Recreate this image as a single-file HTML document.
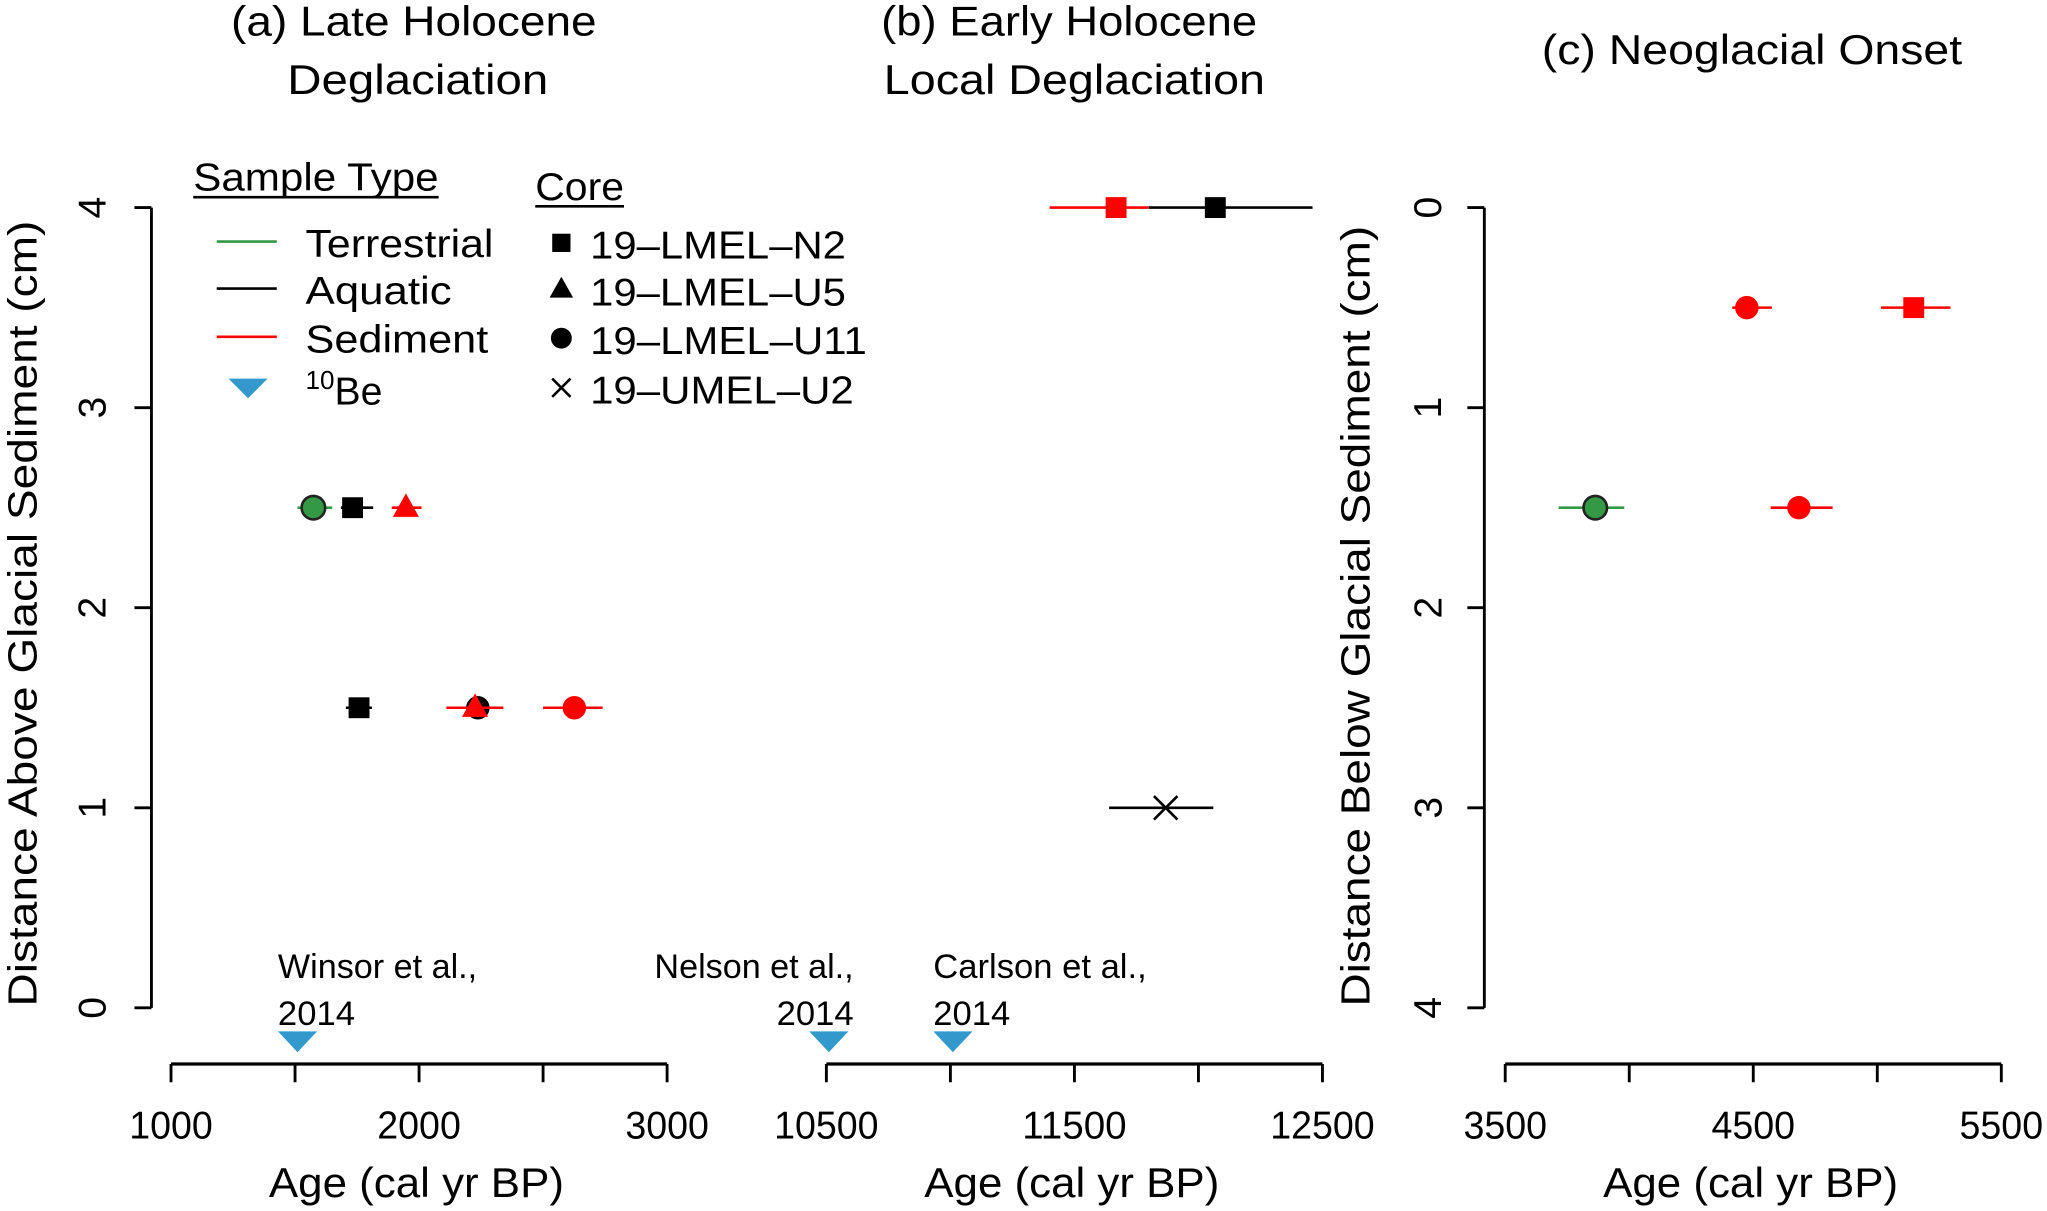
<!DOCTYPE html>
<html><head><meta charset="utf-8"><style>
html,body{margin:0;padding:0;background:#fff;}
svg{display:block;font-family:"Liberation Sans",sans-serif;}
</style></head><body>
<svg id="chart" width="2047" height="1211" viewBox="0 0 1568 927.6" xmlns="http://www.w3.org/2000/svg">
<g id="root"></g>
</svg>
<script>
// ---- data ----
const panelAAges = [1574, 1732, 1947, 1758, 2237, 2226, 2626];
const panelALo = [1510, 1685, 1890, 1705, 2120, 2110, 2500];
const panelAHi = [1650, 1815, 2010, 1810, 2310, 2340, 2740];
const panelADepth = [2.5, 2.5, 2.5, 1.5, 1.5, 1.5, 1.5];
const panelAType = ['T', 'A', 'S', 'A', 'A', 'S', 'S'];
const panelACore = ['U11', 'N2', 'U5', 'N2', 'U11', 'U5', 'U11'];

const panelBAges = [11668, 12068, 11868];
const panelBLo = [11400, 11800, 11640];
const panelBHi = [11800, 12460, 12060];
const panelBDepth = [4, 4, 1];
const panelBType = ['S', 'A', 'A'];
const panelBCore = ['N2', 'N2', 'U2'];

const panelCAges = [3863, 4474, 5147, 4684];
const panelCLo = [3715, 4415, 5015, 4570];
const panelCHi = [3980, 4575, 5295, 4820];
const panelCDepth = [1.5, 0.5, 0.5, 1.5];
const panelCType = ['T', 'S', 'S', 'S'];
const panelCCore = ['U11', 'U11', 'N2', 'U11'];

const beAges = [1510, 10510, 11010];
const beNames = ['Winsor et al.,', 'Nelson et al.,', 'Carlson et al.,'];
const axisATicks = [1000, 1500, 2000, 2500, 3000];
const axisALabels = ['1000', '', '2000', '', '3000'];
const axisBTicks = [10500, 11000, 11500, 12000, 12500];
const axisBLabels = ['10500', '', '11500', '', '12500'];
const axisCTicks = [3500, 4000, 4500, 5000, 5500];
const axisCLabels = ['3500', '', '4500', '', '5500'];
const yTicks = [0, 1, 2, 3, 4];

// ---- helpers ----
const NS = 'http://www.w3.org/2000/svg';
const root = document.getElementById('root');
function mk(tag, attrs, parent) {
  const e = document.createElementNS(NS, tag);
  for (const k in attrs) e.setAttribute(k, attrs[k]);
  (parent || root).appendChild(e);
  return e;
}
function txt(s, x, y, size, anchor, extra) {
  const t = mk('text', Object.assign({x: x, y: y, 'font-size': size, 'text-anchor': anchor || 'start', fill: '#000'}, extra || {}));
  t.textContent = s;
  return t;
}
const colors = {T: '#339944', A: '#000000', S: '#ff0000'};
const yTop = 159, yBot = 772;
function yAbove(v) { return yBot - (yBot - yTop) * v / 4; }
function yBelow(v) { return yTop + (yBot - yTop) * v / 4; }
function xA(v) { return 131 + (v - 1000) * 0.19; }
function xB(v) { return 633 + (v - 10500) * 0.19; }
function xC(v) { return 1153 + (v - 3500) * 0.19; }

function marker(core, cx, cy, col, parent) {
  let e;
  if (core === 'N2') e = mk('rect', {x: cx - 8, y: cy - 8, width: 16, height: 16, fill: col}, parent);
  else if (core === 'U5') e = mk('polygon', {points: `${cx},${cy - 11} ${cx - 10},${cy + 7} ${cx + 10},${cy + 7}`, fill: col}, parent);
  else if (core === 'U11') e = mk('circle', {cx: cx, cy: cy, r: 9, fill: col, stroke: col === '#339944' ? '#222' : col, 'stroke-width': col === '#339944' ? 2 : 0}, parent);
  else { e = mk('path', {d: `M${cx - 9},${cy - 9}L${cx + 9},${cy + 9}M${cx - 9},${cy + 9}L${cx + 9},${cy - 9}`, stroke: col, 'stroke-width': 2, fill: 'none'}, parent); }
  return e;
}

function drawPoints(ages, lo, hi, depth, type, core, xf, yf, name) {
  for (let i = 0; i < ages.length; i++) {
    const g = mk('g', {});
    
    
    const col = colors[type[i]];
    const l = mk('line', {x1: xf(lo[i]), x2: xf(hi[i]), y1: yf(depth[i]), y2: yf(depth[i]), stroke: col, 'stroke-width': 2}, g);
    
    
    const m = marker(core[i], xf(ages[i]), yf(depth[i]), col, g);
    
    
  }
}

function yAxis(x, yf, name, labelX) {
  const g = mk('g', {});
  
  
  mk('line', {x1: x, x2: x, y1: yTop, y2: yBot, stroke: '#000', 'stroke-width': 2.2}, g);
  yTicks.forEach(v => {
    mk('line', {x1: x - 13, x2: x, y1: yf(v), y2: yf(v), stroke: '#000', 'stroke-width': 2.2}, g);
    const t = txt(String(v), labelX, yf(v), 30, 'middle', {transform: `rotate(-90 ${labelX} ${yf(v)})`, dy: 11});
    g.appendChild(t);
    
    
  });
}
function xAxis(ticks, labels, xf, name) {
  const g = mk('g', {});
  
  
  mk('line', {x1: xf(ticks[0]), x2: xf(ticks[ticks.length - 1]), y1: 815, y2: 815, stroke: '#000', 'stroke-width': 2.5}, g);
  ticks.forEach((v, i) => {
    mk('line', {x1: xf(v), x2: xf(v), y1: 815, y2: 829, stroke: '#000', 'stroke-width': 2.2}, g);
    if (labels[i]) {
      const t = txt(labels[i], xf(v), 872, 30, 'middle', {textLength: labels[i].length * 16, lengthAdjust: 'spacingAndGlyphs'});
      g.appendChild(t);
      
      
    }
  });
}

// ---- titles ----
let t;
t = txt('(a) Late Holocene', 317, 27, 32, 'middle', {textLength: 280, lengthAdjust: 'spacingAndGlyphs'});
 
t = txt('Deglaciation', 320, 72, 32, 'middle', {textLength: 200, lengthAdjust: 'spacingAndGlyphs'});
 
t = txt('(b) Early Holocene', 819, 27, 32, 'middle', {textLength: 288, lengthAdjust: 'spacingAndGlyphs'});
 
t = txt('Local Deglaciation', 823, 72, 32, 'middle', {textLength: 292, lengthAdjust: 'spacingAndGlyphs'});
 
t = txt('(c) Neoglacial Onset', 1342, 49, 32, 'middle', {textLength: 322, lengthAdjust: 'spacingAndGlyphs'});
 

// axis titles
t = txt('Distance Above Glacial Sediment (cm)', 28, 470, 31, 'middle', {transform: 'rotate(-90 28 470)', textLength: 602, lengthAdjust: 'spacingAndGlyphs'});
 
t = txt('Distance Below Glacial Sediment (cm)', 1049, 472, 31, 'middle', {transform: 'rotate(-90 1049 472)', textLength: 598, lengthAdjust: 'spacingAndGlyphs'});
 
[[319, 'x-axis-title-a'], [821, 'x-axis-title-b'], [1341, 'x-axis-title-c']].forEach(p => {
  const tt = txt('Age (cal yr BP)', p[0], 917, 32, 'middle', {textLength: 226, lengthAdjust: 'spacingAndGlyphs'});
  
  
});

// axes
yAxis(116, yAbove, 'y-axis-a', 70);
yAxis(1137, yBelow, 'y-axis-c', 1093);
xAxis(axisATicks, axisALabels, xA, 'x-axis-a');
xAxis(axisBTicks, axisBLabels, xB, 'x-axis-b');
xAxis(axisCTicks, axisCLabels, xC, 'x-axis-c');

// points
drawPoints(panelAAges, panelALo, panelAHi, panelADepth, panelAType, panelACore, xA, yAbove, 'panel-a');
drawPoints(panelBAges, panelBLo, panelBHi, panelBDepth, panelBType, panelBCore, xB, yAbove, 'panel-b');
drawPoints(panelCAges, panelCLo, panelCHi, panelCDepth, panelCType, panelCCore, xC, yBelow, 'panel-c');

// 10Be markers
const beX = [xA(beAges[0]), xB(beAges[1]), xB(beAges[2])];
beAges.forEach((a, i) => {
  const cx = beX[i];
  const tri = mk('polygon', {points: `${cx - 15},${790} ${cx + 15},${790} ${cx},${806}`, fill: '#3399cc'});
  
  
  const anchorX = i === 0 ? cx - 15 : (i === 1 ? cx + 19 : cx - 15);
  const anc = i === 1 ? 'end' : 'start';
  const l1 = txt(beNames[i], anchorX, 749, 26, anc, {textLength: beNames[i].length * 10.9, lengthAdjust: 'spacingAndGlyphs'});
  
  
  const l2 = txt('2014', anchorX, 785, 26, anc, {textLength: 59, lengthAdjust: 'spacingAndGlyphs'});
  
  
});

// legend
const lg = mk('g', {});


t = txt('Sample Type', 148, 146, 30, 'start', {textLength: 188, lengthAdjust: 'spacingAndGlyphs'}); lg.appendChild(t);
 
mk('line', {x1: 148, x2: 336, y1: 151, y2: 151, stroke: '#000', 'stroke-width': 2}, lg);
t = txt('Core', 410, 153, 30, 'start', {textLength: 68, lengthAdjust: 'spacingAndGlyphs'}); lg.appendChild(t);
 
mk('line', {x1: 410, x2: 478, y1: 158, y2: 158, stroke: '#000', 'stroke-width': 2}, lg);
const legTypes = [['Terrestrial', '#339944', 185, 144], ['Aquatic', '#000000', 221, 112], ['Sediment', '#ff0000', 258, 140]];
legTypes.forEach(r => {
  const g = mk('g', {}, lg);
  
  
  mk('line', {x1: 166, x2: 212, y1: r[2], y2: r[2], stroke: r[1], 'stroke-width': 2}, g);
  g.appendChild(txt(r[0], 234, r[2] + 12, 30, 'start', {textLength: r[3], lengthAdjust: 'spacingAndGlyphs'}));
});
{
  const g = mk('g', {}, lg);
  
  
  mk('polygon', {points: '175,290 205,290 190,305', fill: '#3399cc'}, g);
  const tt = txt('', 234, 310, 30, 'start', {});
  g.appendChild(tt);
  const s1 = mk('tspan', {'font-size': 20, dy: -12}, tt); s1.textContent = '10';
  const s2 = mk('tspan', {'font-size': 30, dy: 12}, tt); s2.textContent = 'Be';
}
const legCores = [['N2', '19\u2013LMEL\u2013N2', 186, 196], ['U5', '19\u2013LMEL\u2013U5', 222, 196], ['U11', '19\u2013LMEL\u2013U11', 259, 212], ['U2', '19\u2013UMEL\u2013U2', 297, 202]];
legCores.forEach(r => {
  const g = mk('g', {}, lg);
  
  
  const cx = 430, cy = r[2];
  if (r[0] === 'N2') mk('rect', {x: cx - 7, y: cy - 7, width: 14, height: 14, fill: '#000'}, g);
  else if (r[0] === 'U5') mk('polygon', {points: `${cx},${cy - 10} ${cx - 9},${cy + 6} ${cx + 9},${cy + 6}`, fill: '#000'}, g);
  else if (r[0] === 'U11') mk('circle', {cx: cx, cy: cy, r: 8, fill: '#000'}, g);
  else mk('path', {d: `M${cx - 7},${cy - 7}L${cx + 7},${cy + 7}M${cx - 7},${cy + 7}L${cx + 7},${cy - 7}`, stroke: '#000', 'stroke-width': 2}, g);
  g.appendChild(txt(r[1], 452, cy + 12, 30, 'start', {textLength: r[3], lengthAdjust: 'spacingAndGlyphs'}));
});
</script>
</body></html>
